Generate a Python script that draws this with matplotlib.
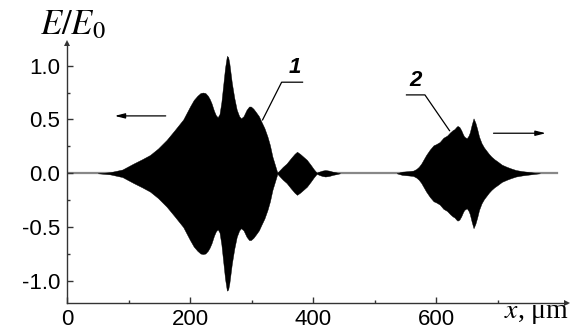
import matplotlib
matplotlib.use("Agg")
import matplotlib.pyplot as plt
from matplotlib.ticker import FixedLocator
import numpy as np

# Envelope of pulse 1 (x in um, amplitude E/E0)
x1 = [50, 70, 90, 108, 122, 135, 148, 162, 175, 189, 200, 206, 212, 217, 221, 225, 229,
      232, 235, 239, 242, 245, 248, 251, 254, 257, 260, 262, 264, 266, 268, 272, 276, 280,
      283, 287, 292, 296, 299, 303, 307, 312, 316, 321, 326, 330, 334, 338, 342, 346, 351,
      357, 364, 370, 374, 379, 384, 390, 396, 401, 406, 410, 415, 420, 426, 432, 438, 444]
a1 = [0.0, 0.01, 0.035, 0.09, 0.13, 0.17, 0.23, 0.31, 0.40, 0.50, 0.62, 0.68, 0.72, 0.745,
      0.75, 0.745, 0.72, 0.69, 0.65, 0.58, 0.54, 0.52, 0.55, 0.66, 0.82, 0.98, 1.09, 1.08,
      1.02, 0.93, 0.84, 0.70, 0.59, 0.53, 0.51, 0.53, 0.59, 0.62, 0.62, 0.60, 0.57, 0.53,
      0.48, 0.42, 0.34, 0.26, 0.155, 0.08, 0.005, 0.03, 0.06, 0.09, 0.14, 0.18, 0.20, 0.18,
      0.155, 0.125, 0.08, 0.04, 0.005, 0.015, 0.025, 0.03, 0.025, 0.015, 0.008, 0.0]

# Envelope of pulse 2
x2 = [536, 545, 555, 563, 568, 572, 576, 579, 584, 590, 596, 600, 606, 612, 618, 623, 627,
      630, 633, 635, 638, 641, 644, 646, 650, 653, 655, 658, 661, 664, 667, 670, 674, 678,
      682, 686, 690, 695, 700, 707, 715, 722, 730, 740, 747, 758, 769]
a2 = [0.0, 0.015, 0.02, 0.025, 0.04, 0.06, 0.09, 0.12, 0.17, 0.22, 0.26, 0.27, 0.29, 0.33,
      0.35, 0.38, 0.40, 0.41, 0.43, 0.44, 0.43, 0.40, 0.36, 0.34, 0.325, 0.35, 0.38, 0.45,
      0.51, 0.47, 0.41, 0.34, 0.28, 0.24, 0.21, 0.18, 0.155, 0.13, 0.11, 0.08, 0.06, 0.045,
      0.03, 0.02, 0.015, 0.007, 0.0]

baseline_x = [0, 796]

xticks_major = [0, 200, 400, 600]
xticks_minor = [100, 300, 500, 700]
yticks_major = [-1.0, -0.5, 0.0, 0.5, 1.0]
yticks_minor = [-0.75, -0.25, 0.25, 0.75]

plt.rcParams['axes.unicode_minus'] = False
plt.rcParams['mathtext.fontset'] = 'stix'

fig = plt.figure(figsize=(5.85, 3.29), dpi=100)
ax = fig.add_axes([67/585, 26.5/329, 500/585, 259.5/329])
ax.set_xlim(0, 813)
ax.set_ylim(-1.2, 1.21)

ax.plot(baseline_x, [0, 0], color='#888888', lw=1.6, zorder=1)
x1a = np.array(x1); a1a = np.array(a1)
x2a = np.array(x2); a2a = np.array(a2)
ax.fill_between(x1a, a1a, -a1a, color='black', lw=0.3, edgecolor='black', zorder=2)
ax.fill_between(x2a, a2a, -a2a, color='black', lw=0.3, edgecolor='black', zorder=2)

for s in ['top', 'right']:
    ax.spines[s].set_visible(False)
for s in ['left', 'bottom']:
    ax.spines[s].set_color('#333333')
    ax.spines[s].set_linewidth(1.0)

ax.plot([1], [0], marker='>', color='#333333', ms=5, transform=ax.transAxes,
        clip_on=False, markeredgewidth=0)
ax.plot([0], [1], marker='^', color='#333333', ms=5, transform=ax.transAxes,
        clip_on=False, markeredgewidth=0)

ax.xaxis.set_major_locator(FixedLocator(xticks_major))
ax.xaxis.set_minor_locator(FixedLocator(xticks_minor))
ax.yaxis.set_major_locator(FixedLocator(yticks_major))
ax.yaxis.set_minor_locator(FixedLocator(yticks_minor))
ax.set_yticklabels([f"{v:.1f}" for v in yticks_major])
ax.set_xticklabels([str(v) for v in xticks_major])
ax.tick_params(which='both', direction='in', color='#333333', width=1.0)
ax.tick_params(which='major', length=4.5, pad=5, labelsize=16)
ax.tick_params(which='minor', length=2.5)
for lab in ax.get_xticklabels() + ax.get_yticklabels():
    lab.set_family('Liberation Sans')

fig.text(40/585, 1 - 24/329, r'$E/E_0$', fontsize=25, ha='left', va='center')
fig.text(537/585, 1 - 313/329, r'$x$, μm', fontsize=20, ha='center', va='center',
         family='Liberation Serif')

# labels 1 and 2 with leader lines
ax.plot([318, 349, 383], [0.496, 0.846, 0.846], color='black', lw=0.9)
ax.text(371, 0.98, '1', fontsize=16, style='italic', weight='bold',
        family='Liberation Sans', ha='center', va='center')
ax.plot([622, 582, 552], [0.396, 0.728, 0.728], color='black', lw=0.9)
ax.text(566, 0.86, '2', fontsize=16, style='italic', weight='bold',
        family='Liberation Sans', ha='center', va='center')

ax.annotate('', xy=(73, 0.533), xytext=(165, 0.533),
            arrowprops=dict(arrowstyle='-|>,head_length=0.6,head_width=0.15',
                            color='black', lw=0.9))
ax.annotate('', xy=(783, 0.372), xytext=(689, 0.372),
            arrowprops=dict(arrowstyle='-|>,head_length=0.6,head_width=0.15',
                            color='black', lw=0.9))

fig.savefig('out.png', dpi=100)
